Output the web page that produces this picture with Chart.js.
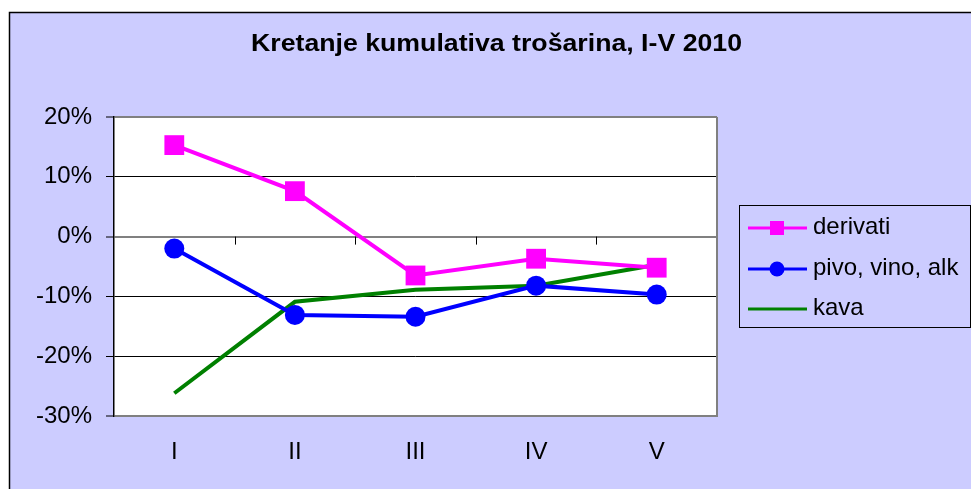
<!DOCTYPE html>
<html>
<head>
<meta charset="utf-8">
<script src="https://cdn.jsdelivr.net/npm/chart.js@4"></script>
<style>
  html, body { margin: 0; padding: 0; background: #fff; }
  #wrap { width: 971px; height: 489px; position: relative; }
</style>
</head>
<body>
<div id="wrap"><canvas id="myChart"></canvas></div>
<script>
// data (percent)
const months = ['I', 'II', 'III', 'IV', 'V'];
const derivati = [15.3, 7.6, -6.5, -3.7, -5.2];
const pivoVinoAlk = [-2.0, -13.1, -13.4, -8.2, -9.7];
const kava = [-26.2, -10.9, -8.9, -8.2, -4.7];
const yTicks = [20, 10, 0, -10, -20, -30];

const titleText = 'Kretanje kumulativa trošarina, I-V 2010';
const FONT = '"Liberation Sans", Arial, sans-serif';

// frame, plot background, title
const backdrop = {
  id: 'backdrop',
  beforeDraw(chart) {
    const { ctx, chartArea: a } = chart;
    ctx.save();
    ctx.fillStyle = '#fff';
    ctx.fillRect(0, 0, chart.width, chart.height);
    ctx.fillStyle = '#CCCCFF';
    ctx.fillRect(9, 12, chart.width - 9, chart.height - 12);
    ctx.strokeStyle = '#000';
    ctx.lineWidth = 1.5;
    ctx.beginPath();
    ctx.moveTo(9.5, chart.height);
    ctx.lineTo(9.5, 12.5);
    ctx.lineTo(chart.width, 12.5);
    ctx.stroke();
    ctx.fillStyle = '#fff';
    ctx.fillRect(a.left, a.top, a.right - a.left, a.bottom - a.top);

    // title: Excel renders it wide, so stretch horizontally to the same span
    ctx.fillStyle = '#000';
    ctx.font = 'bold 23px ' + FONT;
    ctx.textAlign = 'left';
    ctx.textBaseline = 'alphabetic';
    const w = ctx.measureText(titleText).width;
    ctx.translate(251, 51);
    ctx.scale(491 / w, 1);
    ctx.fillText(titleText, 0, 0);
    ctx.restore();
  }
};

// right border and category ticks on the 0% line
const plotFrame = {
  id: 'plotFrame',
  beforeDatasetsDraw(chart) {
    const { ctx, chartArea: a, scales } = chart;
    const x = scales.x, y = scales.y;
    ctx.save();
    ctx.strokeStyle = '#808080';
    ctx.lineWidth = 2;
    ctx.beginPath();
    ctx.moveTo(a.right, a.top);
    ctx.lineTo(a.right, a.bottom + 1);
    ctx.stroke();
    const y0 = y.getPixelForValue(0);
    ctx.strokeStyle = '#000';
    ctx.lineWidth = 1;
    ctx.beginPath();
    for (let i = 0; i < months.length - 1; i++) {
      const xb = Math.round((x.getPixelForValue(i) + x.getPixelForValue(i + 1)) / 2) + 0.5;
      ctx.moveTo(xb, y0);
      ctx.lineTo(xb, y0 + 8);
    }
    ctx.stroke();
    ctx.restore();
  }
};

// boxed legend with line + marker samples
const boxLegend = {
  id: 'boxLegend',
  afterDraw(chart) {
    const { ctx } = chart;
    const rows = [228, 269, 309];
    ctx.save();
    ctx.strokeStyle = '#000';
    ctx.lineWidth = 1;
    ctx.strokeRect(739.5, 205.5, 231, 122);
    chart.data.datasets.forEach((ds, i) => {
      const ly = rows[i];
      ctx.strokeStyle = ds.borderColor;
      ctx.lineWidth = 3;
      ctx.beginPath();
      ctx.moveTo(748, ly);
      ctx.lineTo(807, ly);
      ctx.stroke();
      ctx.fillStyle = ds.borderColor;
      if (ds.pointStyle === 'rect') {
        ctx.fillRect(770, ly - 7, 14, 14);
      } else if (ds.pointRadius > 0) {
        ctx.beginPath();
        ctx.arc(777, ly, 7.5, 0, Math.PI * 2);
        ctx.fill();
      }
      ctx.fillStyle = '#000';
      ctx.font = '24px ' + FONT;
      ctx.textAlign = 'left';
      ctx.textBaseline = 'middle';
      ctx.fillText(ds.label, 813, ly - 1);
    });
    ctx.restore();
  }
};

const ctx = document.getElementById('myChart');
new Chart(ctx, {
  type: 'line',
  data: {
    labels: months,
    datasets: [
      {
        label: 'derivati',
        data: derivati,
        borderColor: '#FF00FF',
        backgroundColor: '#FF00FF',
        borderWidth: 4,
        pointStyle: 'rect',
        pointRadius: 14,
        pointBorderWidth: 0,
        tension: 0
      },
      {
        label: 'pivo, vino, alk',
        data: pivoVinoAlk,
        borderColor: '#0000FF',
        backgroundColor: '#0000FF',
        borderWidth: 4,
        pointStyle: 'circle',
        pointRadius: 10,
        pointBorderWidth: 0,
        tension: 0
      },
      {
        label: 'kava',
        data: kava,
        borderColor: '#008000',
        backgroundColor: '#008000',
        borderWidth: 4,
        pointRadius: 0,
        tension: 0
      }
    ]
  },
  options: {
    responsive: true,
    maintainAspectRatio: false,
    animation: false,
    events: [],
    layout: { padding: { top: 117, left: 0, right: 254, bottom: 0 } },
    plugins: {
      legend: { display: false },
      title: { display: false },
      tooltip: { enabled: false }
    },
    scales: {
      x: {
        type: 'category',
        offset: true,
        afterFit: (s) => { s.height = 73; },
        grid: { display: false, drawTicks: false },
        border: { display: false },
        ticks: {
          color: '#000',
          padding: 22,
          maxRotation: 0,
          font: { family: FONT, size: 24 }
        }
      },
      y: {
        min: -30,
        max: 20,
        afterFit: (s) => { s.width = 114; },
        afterBuildTicks: (s) => { s.ticks = yTicks.map(v => ({ value: v })); },
        border: { color: '#000', width: 1.5 },
        grid: {
          color: (c) => ([20, 0, -30].includes(c.tick && c.tick.value) ? '#808080' : '#000'),
          lineWidth: (c) => ([20, 0, -30].includes(c.tick && c.tick.value) ? 2 : 1),
          tickColor: '#000',
          tickWidth: 1,
          tickLength: 8
        },
        ticks: {
          color: '#000',
          padding: 14,
          font: { family: FONT, size: 24 },
          callback: (v) => v + '%'
        }
      }
    }
  },
  plugins: [backdrop, plotFrame, boxLegend]
});
</script>
</body>
</html>
